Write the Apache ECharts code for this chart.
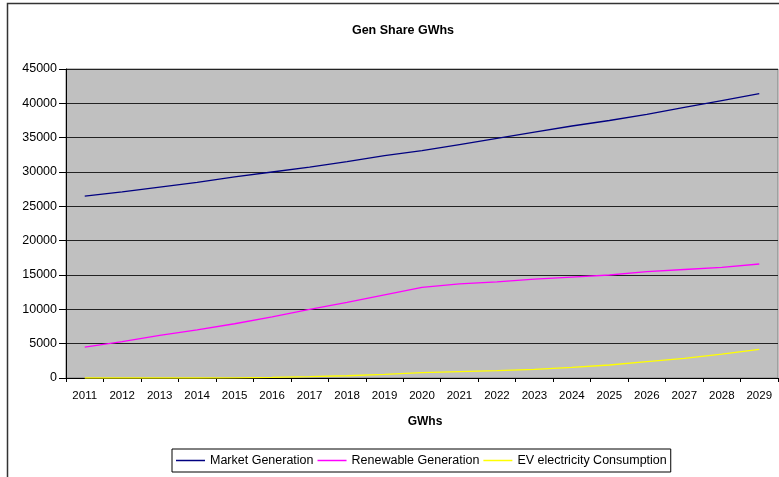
<!DOCTYPE html>
<html>
<head>
<meta charset="utf-8">
<script src="https://cdn.jsdelivr.net/npm/echarts@6/dist/echarts.min.js"></script>
<style>
html, body { margin: 0; padding: 0; background: #fff; }
#chart { width: 779px; height: 477px; }
</style>
</head>
<body>
<div id="chart"></div>
<script>
var years = ['2011', '2012', '2013', '2014', '2015', '2016', '2017', '2018', '2019', '2020',
             '2021', '2022', '2023', '2024', '2025', '2026', '2027', '2028', '2029']

var marketGen = [26500, 27100, 27800, 28500, 29300, 30000, 30700, 31500, 32400, 33100,
                 34000, 34900, 35800, 36700, 37500, 38400, 39400, 40400, 41400]
var renewableGen = [4500, 5300, 6200, 7000, 7900, 8900, 10000, 11000, 12100, 13200,
                    13700, 14000, 14400, 14700, 15000, 15500, 15800, 16100, 16600]
var evConsumption = [0, 0, 0, 0, 30, 100, 200, 330, 530, 770,
                     920, 1070, 1260, 1550, 1890, 2380, 2870, 3490, 4180]

var chart = echarts.init(document.getElementById('chart'))

var font = 'Liberation Sans, Arial, sans-serif'

var option = {
    backgroundColor: '#fff',
    animation: false,
    title: {
        text: 'Gen Share GWhs',
        left: 398,
        top: 19,
        textAlign: 'center',
        textStyle: { fontFamily: font, fontSize: 12.5, fontWeight: 'bold', color: '#000' }
    },
    legend: {
        left: 172,
        top: 449,
        padding: [5, 4, 5, 4],
        borderColor: '#000',
        borderWidth: 1,
        itemWidth: 29,
        itemHeight: 1.5,
        itemGap: 4,
        icon: 'rect',
        textStyle: { fontFamily: font, fontSize: 12.5, color: '#000' },
        data: ['Market Generation', 'Renewable Generation', 'EV electricity Consumption']
    },
    graphic: [{
        type: 'rect',
        shape: { x: 7.5, y: 3.5, width: 800, height: 500 },
        style: { fill: 'none', stroke: '#333', lineWidth: 1.5 },
        silent: true,
        z: -1
    }],
    grid: {
        left: 66,
        right: 1,
        top: 69,
        bottom: 99,
        show: true,
        backgroundColor: '#C0C0C0',
        borderColor: '#808080',
        borderWidth: 1
    },
    xAxis: {
        type: 'category',
        data: years,
        boundaryGap: true,
        name: 'GWhs',
        nameLocation: 'middle',
        nameGap: 38,
        nameTextStyle: { fontFamily: font, fontSize: 12, fontWeight: 'bold', color: '#000', padding: [0, 0, 0, 6] },
        axisLine: { lineStyle: { color: '#000', width: 1 } },
        axisTick: { show: true, length: 4, alignWithLabel: false, lineStyle: { color: '#000' } },
        axisLabel: { fontFamily: font, fontSize: 11.5, color: '#000', margin: 12, interval: 0 },
        splitLine: { show: false }
    },
    yAxis: {
        type: 'value',
        min: 0,
        max: 45000,
        interval: 5000,
        axisLine: { show: true, lineStyle: { color: '#000', width: 1 } },
        axisTick: { show: true, length: 7, lineStyle: { color: '#000' } },
        axisLabel: {
            fontFamily: font, fontSize: 12.5, color: '#000', margin: 9,
            formatter: function (v) { return String(v) }
        },
        splitLine: { show: true, lineStyle: { color: '#222', width: 1 } }
    },
    series: [
        {
            name: 'Market Generation',
            type: 'line',
            data: marketGen,
            symbol: 'none',
            color: '#000080',
            lineStyle: { width: 1.3, color: '#000080' }
        },
        {
            name: 'Renewable Generation',
            type: 'line',
            data: renewableGen,
            symbol: 'none',
            color: '#FF00FF',
            lineStyle: { width: 1.3, color: '#FF00FF' }
        },
        {
            name: 'EV electricity Consumption',
            type: 'line',
            data: evConsumption,
            symbol: 'none',
            color: '#FFFF00',
            lineStyle: { width: 1.3, color: '#FFFF00' }
        }
    ]
}

chart.setOption(option)
</script>
</body>
</html>
